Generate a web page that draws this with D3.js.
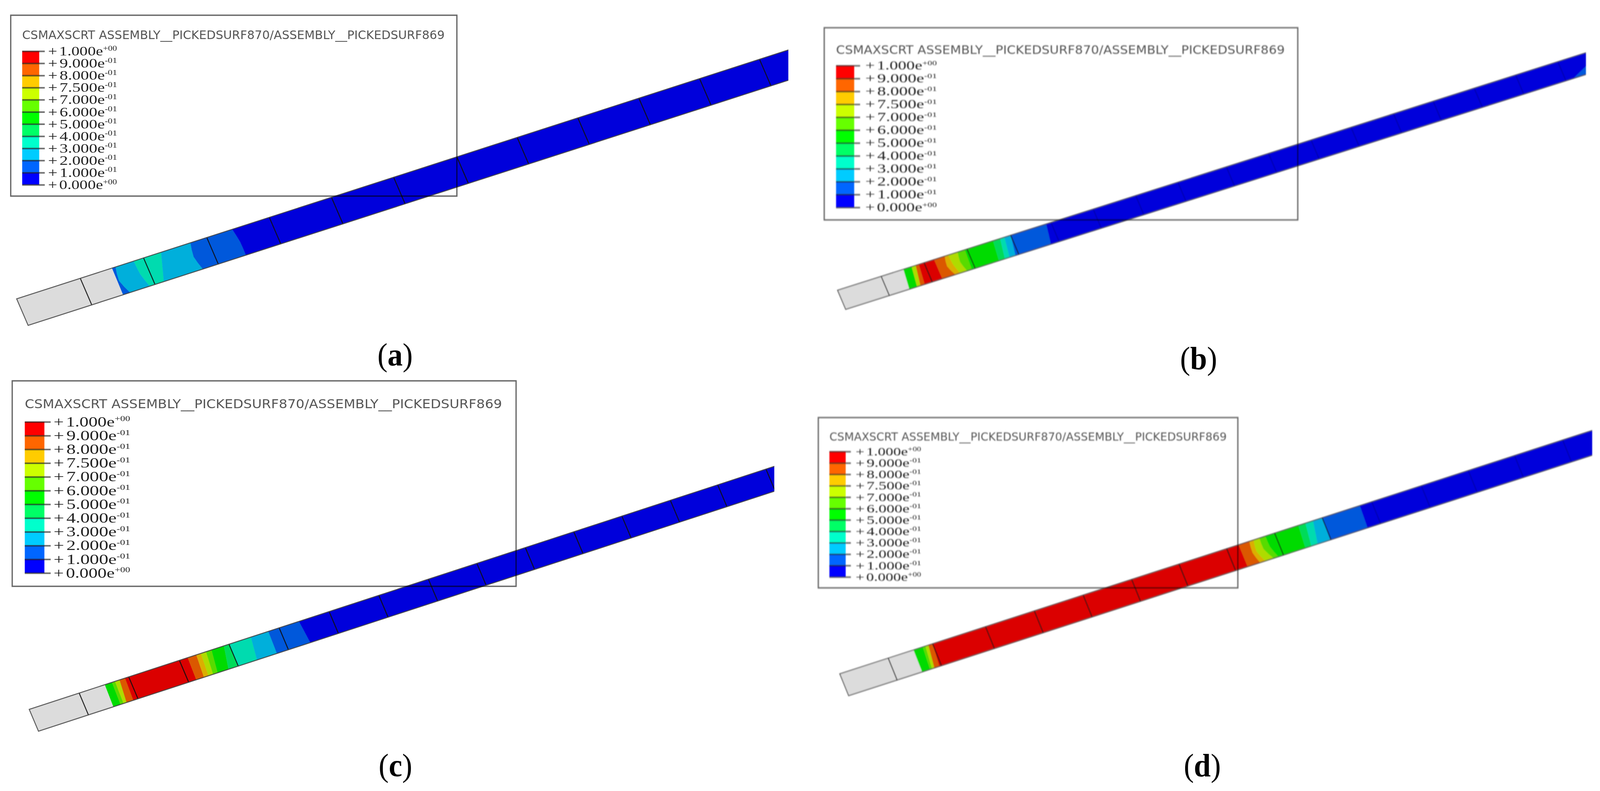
<!DOCTYPE html>
<html>
<head>
<meta charset="utf-8">
<title>CSMAXSCRT contours</title>
<script src="https://cdn.jsdelivr.net/npm/d3@7"></script>
<style>
  html, body { margin: 0; padding: 0; background: #fff; overflow: hidden; }
  svg { display: block; width: 100vw; height: 100vh; }
</style>
</head>
<body>
<div id="my_dataviz"></div>
<script>
// —————————— DATA
var legendTitle = "CSMAXSCRT ASSEMBLY__PICKEDSURF870/ASSEMBLY__PICKEDSURF869";
var legendValues = [1, 0.9, 0.8, 0.75, 0.7, 0.6, 0.5, 0.4, 0.3, 0.2, 0.1, 0];
var legendMantissa = ["1.000","9.000","8.000","7.500","7.000","6.000","5.000","4.000","3.000","2.000","1.000","0.000"];
var legendExponent = ["+00","-01","-01","-01","-01","-01","-01","-01","-01","-01","-01","+00"];
var contourThresholds = [0.1, 0.2, 0.3, 0.4, 0.5, 0.6, 0.7, 0.75, 0.8, 0.9];
var contourColors = ["#0000ff","#0066ff","#00ccff","#00ffcc","#00ff66","#00ff00","#66ff00","#ccff00","#ffcc00","#ff6600","#ff0000"];
var captionLetters = ["a","b","c","d"];

// stations along the beam: element lines, contour bounds on both long edges,
// how far a bound bows at mid width, value in each band
var aElements = [172,343,514,683,851,1019,1190,1353,1517,1682,1846,2008];
var aFaint = [];
var aBoundTop = [258,267.5,316.6,390.6,470,583];
var aBoundBot = [257,276,329,367,472.5,589];
var aBoundBow = [0,-10,-4,0,-8,3];
var aValues = [0.15,0.25,0.35,0.25,0.15,0.05];

var bElements = [118,234,350,468];
var bFaint = [577,691,806,920,1051,1165,1280,1388,1503,1610,1721,1833,1947];
var bBoundTop = [178.3,200.7,211.5,219.8,261.3,290,299.5,325,344,420.7,439.8,451.3,468.5,564.2,2080];
var bBoundBot = [172.3,193.3,202.3,213.7,261.6,296.7,309.4,328.5,341.3,414.6,430.6,443.3,459.3,555,1968];
var bBoundBow = [0,0,0,0,0,-8,-3,-6,0,0,0,0,0,0,0];
var bValues = [0.55,0.72,0.85,0.95,0.85,0.77,0.72,0.65,0.55,0.45,0.35,0.25,0.15,0.05,0.15];

var cElements = [135,269,406,540,675.6,810.7,945,1079,1210,1341,1472,1602,1733,1861,1991.5];
var cFaint = [];
var cBoundTop = [204.6,223.7,232,244.4,259.3,428.5,451.7,464.1,478.2,493.1,526.3,541.2,599.3,646.5,729.5];
var cBoundBot = [202.8,221.9,230.2,238.5,256.7,426.7,447.4,459.8,472.3,484.7,513.7,538.6,590.9,644.8,735.1];
var cBoundBow = [0,0,0,0,0,0,0,0,0,0,0,0,0,0,0];
var cValues = [0.55,0.65,0.72,0.85,0.95,0.85,0.77,0.72,0.65,0.55,0.45,0.35,0.25,0.15,0.05];

var dElements = [131,251,394,526,658,789,917,1046,1175.5,1304];
var dFaint = [1438,1572,1699,1824,1954];
var dBoundTop = [199.6,224.6,231.8,239.8,251.4,1078.6,1107.3,1118.8,1134.7,1150.7,1240,1259,1279.5,1303.7,1405.8];
var dBoundBot = [198.9,220.3,225.6,231.9,245.3,1078.8,1112.6,1126.7,1149,1161.7,1235,1251,1268,1302,1402.8];
var dBoundBow = [0,0,0,0,0,0,-6,-8,-8,-5,0,0,0,0,0];
var dValues = [0.55,0.65,0.72,0.85,0.95,0.85,0.77,0.72,0.65,0.55,0.45,0.35,0.25,0.15,0.05];

// —————————— LAYOUT
var width = 4325, height = 2025;
var shade = 0.86; // the beam is lit a bit darker than the legend colours
var greyFill = "#dcdcdc";

var panels = [
  { box: [29, 39, 1235, 502], title: [60, 100, 1142, 30], bar: [60, 106, 131, 473], tickEnd: 121, label: [130, 181, 33],
    start: [45, 765], end: [2131, 128], across: [31, 68], blur: 0.7, caption: [1068, 936],
    elements: aElements, faint: aFaint, top: aBoundTop, bot: aBoundBot, bow: aBoundBow, values: aValues },
  { box: [2228, 71, 3508, 563], title: [2260, 138, 1213, 31], bar: [2260, 2309, 168, 531], tickEnd: 2325, label: [2339, 188, 31],
    start: [2264, 743], end: [4287, 135], across: [22, 49], blur: 1.4, caption: [3240, 945],
    elements: bElements, faint: bFaint, top: bBoundTop, bot: bBoundBot, bow: bBoundBow, values: bValues },
  { box: [33, 975, 1395, 1501], title: [67, 1045, 1290, 32], bar: [67, 120, 1080, 1467], tickEnd: 137, label: [145, 201, 35],
    start: [79, 1816], end: [2093, 1194], across: [25, 56], blur: 0.7, caption: [1069, 1987],
    elements: cElements, faint: cFaint, top: cBoundTop, bot: cBoundBot, bow: cBoundBow, values: cValues },
  { box: [2212, 1069, 3346, 1505], title: [2242, 1128, 1074, 29], bar: [2242, 2286, 1156, 1477], tickEnd: 2300, label: [2313, 172, 29],
    start: [2270, 1725], end: [4304, 1102], across: [24, 56], blur: 1.4, caption: [3250, 1987],
    elements: dElements, faint: dFaint, top: dBoundTop, bot: dBoundBot, bow: dBoundBow, values: dValues }
];

// —————————— ON-PAGE VARIABLES
// the window can come out narrower than asked for, so fit the whole frame to it
var svg = d3.select("#my_dataviz")
  .append("svg")
    .attr("viewBox", "0 0 " + width + " " + height)
    .attr("preserveAspectRatio", "none");

var defs = svg.append("defs");

var contourColor = d3.scaleThreshold()
  .domain(contourThresholds)
  .range(contourColors);

var line = d3.line();

function shaded(c) {
  var rgb = d3.rgb(c);
  return d3.rgb(rgb.r * shade, rgb.g * shade, rgb.b * shade).formatHex();
}

// —————————— DRAWING
function drawBeam(g, p, i) {
  var len = p.end[0] - p.start[0];
  var x = d3.scaleLinear().domain([0, len]).range([p.start[0], p.end[0]]);
  var y = d3.scaleLinear().domain([0, len]).range([p.start[1], p.end[1]]);

  // s = 0 on the upper long edge, s = 1 on the lower one
  function pt(st, s) { return [x(st) + s * p.across[0], y(st) + s * p.across[1]]; }
  function bound(t, b, bow) {
    var mid = (t + b) / 2 + bow;
    return [pt(t, 0), pt((t + mid) / 2 + bow * 0.1, 0.25), pt(mid, 0.5), pt((mid + b) / 2 + bow * 0.1, 0.75), pt(b, 1)];
  }

  defs.append("clipPath").attr("id", "beamClip" + i)
    .append("rect")
      .attr("x", 0)
      .attr("y", 0)
      .attr("width", p.end[0])
      .attr("height", height);

  var beam = g.append("g").attr("clip-path", "url(#beamClip" + i + ")");

  var far = len + p.across[0] + 10;
  var tops = [0].concat(p.top, [Math.max(far, d3.max(p.top))]);
  var bots = [0].concat(p.bot, [Math.max(far, d3.max(p.bot))]);
  var bows = [0].concat(p.bow, [0]);
  var fills = [null].concat(p.values);

  beam.selectAll("path.band")
    .data(fills)
    .enter()
    .append("path")
      .attr("class", "band")
      .attr("d", function(d, k) {
        var left = bound(tops[k], bots[k], bows[k]);
        var right = bound(tops[k + 1], bots[k + 1], bows[k + 1]).reverse();
        return line(left.concat(right)) + "Z";
      })
      .attr("fill", function(d) { return d === null ? greyFill : shaded(contourColor(d)); })
      .attr("stroke", function(d) { return d === null ? greyFill : shaded(contourColor(d)); })
      .attr("stroke-width", 0.6);

  beam.selectAll("line.element")
    .data(p.elements)
    .enter()
    .append("line")
      .attr("class", "element")
      .attr("x1", function(d) { return pt(d, 0)[0]; })
      .attr("y1", function(d) { return pt(d, 0)[1]; })
      .attr("x2", function(d) { return pt(d, 1)[0]; })
      .attr("y2", function(d) { return pt(d, 1)[1]; })
      .attr("stroke", "#111")
      .attr("stroke-opacity", 0.9)
      .attr("stroke-width", 2.6);

  beam.selectAll("line.faint")
    .data(p.faint)
    .enter()
    .append("line")
      .attr("class", "faint")
      .attr("x1", function(d) { return pt(d, 0)[0]; })
      .attr("y1", function(d) { return pt(d, 0)[1]; })
      .attr("x2", function(d) { return pt(d, 1)[0]; })
      .attr("y2", function(d) { return pt(d, 1)[1]; })
      .attr("stroke", "#000")
      .attr("stroke-opacity", 0.18)
      .attr("stroke-width", 3);

  beam.append("path")
    .attr("d", line([pt(far, 0), pt(0, 0), pt(0, 1), pt(far, 1)]))
    .attr("fill", "none")
    .attr("stroke", "#444")
    .attr("stroke-opacity", 0.85)
    .attr("stroke-width", 2.6);
}

function drawLegend(g, p) {
  // box sits over the beam, its line still shows through
  g.append("rect")
    .attr("x", p.box[0])
    .attr("y", p.box[1])
    .attr("width", p.box[2] - p.box[0])
    .attr("height", p.box[3] - p.box[1])
    .attr("fill", "none")
    .attr("stroke", "#666")
    .attr("stroke-width", 3.4)
    .style("mix-blend-mode", "multiply");

  g.append("text")
    .attr("x", p.title[0])
    .attr("y", p.title[1])
    .attr("textLength", p.title[2])
    .attr("lengthAdjust", "spacingAndGlyphs")
    .style("font-family", "'DejaVu Sans'")
    .style("font-size", p.title[3] + "px")
    .style("fill", "#555")
    .text(legendTitle);

  var yLegend = d3.scalePoint()
    .domain(legendValues)
    .range([p.bar[2], p.bar[3]]);

  g.selectAll("rect.swatch")
    .data(legendValues.slice(0, -1))
    .enter()
    .append("rect")
      .attr("class", "swatch")
      .attr("x", p.bar[0])
      .attr("y", function(d) { return yLegend(d); })
      .attr("width", p.bar[1] - p.bar[0])
      .attr("height", function(d, i) { return yLegend(legendValues[i + 1]) - yLegend(d); })
      .attr("fill", function(d, i) { return contourColor((d + legendValues[i + 1]) / 2); });

  var axis = g.append("g")
    .attr("transform", "translate(" + p.bar[0] + ",0)")
    .call(d3.axisRight(yLegend).tickSize(p.tickEnd - p.bar[0]).tickFormat(""));
  axis.select(".domain").remove();
  axis.selectAll(".tick line")
    .attr("stroke", "#222")
    .attr("stroke-opacity", 0.65)
    .attr("stroke-width", 4);

  var fs = p.label[2];
  axis.selectAll(".tick text")
    .attr("x", 0)
    .style("font-family", "'Liberation Serif'")
    .style("font-size", fs + "px")
    .style("fill", "#222")
    .each(function(d, i) {
      var t = d3.select(this);
      t.append("tspan").text("+");
      t.append("tspan").attr("dx", fs * 0.12).text(legendMantissa[i]);
      t.append("tspan").text("e");
      t.append("tspan")
        .attr("dy", -fs * 0.38)
        .style("font-size", fs * 0.55 + "px")
        .text(legendExponent[i]);
      var sx = p.label[1] / this.getComputedTextLength();
      t.attr("transform", "translate(" + (p.label[0] - p.bar[0]) + ",0) scale(" + sx + ",1)");
    });
}

function main_draw() {
  panels.forEach(function(p, i) {
    defs.append("filter")
      .attr("id", "soft" + i)
      .attr("filterUnits", "userSpaceOnUse")
      .attr("x", 0).attr("y", 0).attr("width", width).attr("height", height)
      .append("feGaussianBlur")
        .attr("stdDeviation", p.blur);

    var g = svg.append("g").attr("filter", "url(#soft" + i + ")");
    drawBeam(g, p, i);
    drawLegend(g, p);

    var cap = svg.append("text")
      .attr("x", p.caption[0])
      .attr("y", p.caption[1])
      .attr("text-anchor", "middle")
      .style("font-family", "'Liberation Serif'")
      .style("font-size", "82px")
      .style("fill", "#000");
    cap.append("tspan").text("(");
    cap.append("tspan").style("font-weight", "bold").text(captionLetters[i]);
    cap.append("tspan").text(")");
  });
}

main_draw();
</script>
</body>
</html>
